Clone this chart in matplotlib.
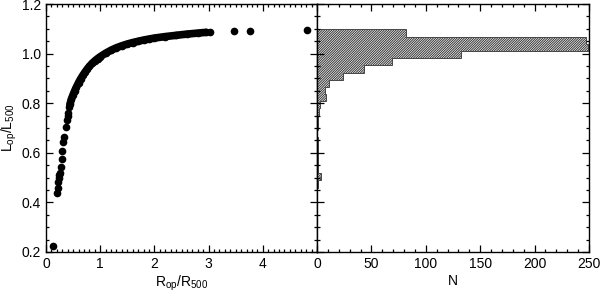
import matplotlib
matplotlib.use("Agg")
import matplotlib.pyplot as plt
from matplotlib.ticker import MultipleLocator, FormatStrFormatter

plt.rcParams['font.family'] = ['Liberation Sans', 'DejaVu Sans']
plt.rcParams['mathtext.fontset'] = 'custom'
plt.rcParams['mathtext.rm'] = 'Liberation Sans'
plt.rcParams['mathtext.it'] = 'Liberation Sans'
plt.rcParams['font.size'] = 10
plt.rcParams['hatch.linewidth'] = 0.7

# sparse points at small radius
r_sparse = [0.12, 0.21, 0.215, 0.227, 0.245, 0.245, 0.258, 0.277, 0.29, 0.30,
            0.32, 0.34, 0.37, 0.38, 0.40, 0.41, 0.43]
l_sparse = [0.225, 0.437, 0.459, 0.484, 0.497, 0.51, 0.518, 0.544, 0.575, 0.607,
            0.645, 0.663, 0.703, 0.732, 0.748, 0.762, 0.785]

# dense part of the curve
r_dense = [0.44, 0.47, 0.50, 0.53, 0.56, 0.60, 0.64, 0.68, 0.72, 0.76, 0.80,
           0.85, 0.90, 0.95, 1.00, 1.10, 1.20, 1.30, 1.40, 1.50, 1.60, 1.70,
           1.80, 1.90, 2.00, 2.20, 2.40, 2.60, 2.80, 2.95]
l_dense = [0.795, 0.818, 0.835, 0.851, 0.865, 0.883, 0.899, 0.913, 0.926, 0.938, 0.949,
           0.961, 0.971, 0.980, 0.988, 1.002, 1.014, 1.024, 1.032, 1.039, 1.045, 1.050,
           1.055, 1.059, 1.063, 1.069, 1.074, 1.079, 1.083, 1.086]

# outliers at large radius
r_out = [3.03, 3.47, 3.76, 4.81]
l_out = [1.088, 1.091, 1.092, 1.096]

# histogram of L_op/L_500
bin_edges = [0.460, 0.489, 0.518, 0.547, 0.576, 0.605, 0.634, 0.663, 0.692, 0.721,
             0.750, 0.779, 0.808, 0.837, 0.866, 0.895, 0.924, 0.953, 0.982, 1.011,
             1.040, 1.069, 1.098]
counts = [1, 4, 1, 1, 1, 1, 1, 0, 1, 1,
          2, 3, 8, 7, 11, 24, 43, 69, 132, 249,
          247, 82]

fig = plt.figure(figsize=(6.0, 2.93), dpi=100)
ax1 = fig.add_axes([0.0767, 0.140, 0.4516, 0.846])
ax2 = fig.add_axes([0.5283, 0.140, 0.4534, 0.846])

ax1.plot(r_dense, l_dense, '-o', color='k', ms=4.5, lw=5.5, solid_capstyle='round',
         solid_joinstyle='round')
ax1.plot(r_sparse, l_sparse, 'o', color='k', ms=4.5)
ax1.plot(r_out, l_out, 'o', color='k', ms=4.5)
ax1.set_xlim(0, 5)
ax1.set_ylim(0.2, 1.2)
ax1.xaxis.set_major_locator(MultipleLocator(1))
ax1.xaxis.set_minor_locator(MultipleLocator(0.1))
ax1.yaxis.set_major_locator(MultipleLocator(0.2))
ax1.yaxis.set_minor_locator(MultipleLocator(0.05))
ax1.yaxis.set_major_formatter(FormatStrFormatter('%.1f'))
ax1.set_xticks([0, 1, 2, 3, 4])
ax1.set_xlabel(r'R$_{\rm op}$/R$_{500}$', labelpad=2)
ax1.set_ylabel(r'L$_{\rm op}$/L$_{500}$', labelpad=2)

ax2.stairs(counts, bin_edges, orientation='horizontal', fill=True,
           facecolor='white', edgecolor='#333333', hatch='/' * 14, lw=0.6)
ax2.set_xlim(0, 250)
ax2.set_ylim(0.2, 1.2)
ax2.xaxis.set_major_locator(MultipleLocator(50))
ax2.xaxis.set_minor_locator(MultipleLocator(10))
ax2.yaxis.set_major_locator(MultipleLocator(0.2))
ax2.yaxis.set_minor_locator(MultipleLocator(0.05))
ax2.set_yticklabels([])
ax2.set_xlabel('N', labelpad=2)

for ax in (ax1, ax2):
    ax.tick_params(which='both', direction='in', top=True, right=True, width=0.9)
    ax.tick_params(which='major', length=5)
    ax.tick_params(which='minor', length=2.5)
    for s in ax.spines.values():
        s.set_linewidth(1.0)

fig.savefig('out.png', dpi=100)
